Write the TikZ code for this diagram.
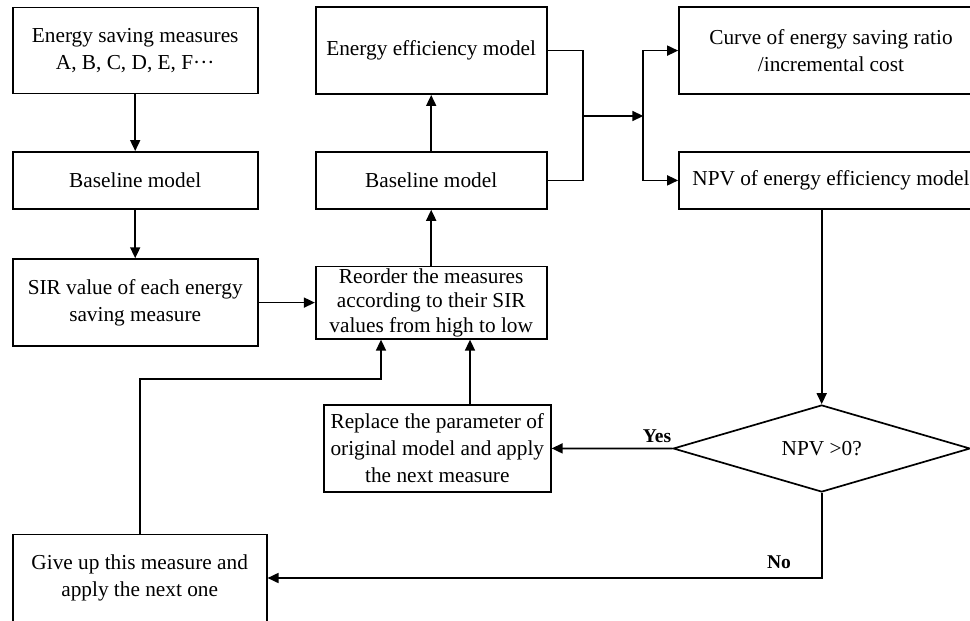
\documentclass[tikz,border=0pt]{standalone}
\usepackage{fontspec}
\setmainfont{Liberation Serif}
\usetikzlibrary{arrows.meta,shapes.geometric}

\begin{document}
\begin{tikzpicture}[x=1pt,y=-1pt,
  box/.style={draw, line width=1.7pt, inner sep=2pt, align=center,
              font=\fontsize{21.3}{27}\selectfont},
  link/.style={line width=1.7pt},
  arr/.style={link, -{Triangle[length=11pt,width=10pt]}},
  tag/.style={font=\bfseries\fontsize{19.5}{20}\selectfont, inner sep=0pt}]

\useasboundingbox (0,0) rectangle (970,621);
\clip (0,0) rectangle (970,621);

% left column
\node[box, minimum width=245pt, minimum height=86pt] (meas) at (135.2,50.4)
  {Energy saving measures\\A, B, C, D, E, F···};
\node[box, minimum width=245pt, minimum height=57pt] (base1) at (135.2,180.4)
  {Baseline model};
\node[box, minimum width=245pt, minimum height=87pt] (sir) at (135.2,302.6)
  {SIR value of each energy\\saving measure};

% middle column
\node[box, minimum width=231pt, minimum height=87pt] (eff) at (431.2,50.6)
  {Energy efficiency model};
\node[box, minimum width=231pt, minimum height=57pt] (base2) at (431.2,180.4)
  {Baseline model};
\node[box, minimum width=231pt, minimum height=72pt,
      font=\fontsize{21.3}{24.5}\selectfont] (reord) at (431.2,302.6)
  {Reorder the measures\\according to their SIR\\values from high to low};
\node[box, minimum width=227pt, minimum height=87pt] (repl) at (437.3,448.4)
  {Replace the parameter of\\original model and apply\\the next measure};

% right column
\node[box, minimum width=304pt, minimum height=87pt] (curve) at (831,50.6)
  {Curve of energy saving ratio\\/incremental cost};
\node[box, minimum width=304pt, minimum height=57pt] (npv) at (831,180.4)
  {NPV of energy efficiency model};
\node[draw, diamond, aspect=3.4, minimum width=297pt, minimum height=87pt,
      inner sep=0pt, line width=1.7pt, font=\fontsize{21.3}{27}\selectfont]
  (dia) at (821.7,448.5) {NPV >0?};

% bottom left
\node[box, minimum width=254pt, minimum height=87pt] (gu) at (139.7,578)
  {Give up this measure and\\apply the next one};

% helper points
\coordinate (jl) at (583.3,116);
\coordinate (jr) at (643.3,116);
\coordinate (cy) at (470,0);
\coordinate (cg) at (381,379);

% connectors
\draw[arr] (meas) -- (base1);
\draw[arr] (base1) -- (sir);
\draw[arr] (sir) -- (reord);
\draw[arr] (reord) -- (base2);
\draw[arr] (base2) -- (eff);
\draw[link] (eff.east) -| (jl);
\draw[link] (base2.east) -| (jl);
\draw[arr] (jl) -- (jr);
\draw[arr] (jr) |- (curve.west);
\draw[arr] (jr) |- (npv.west);
\draw[arr] (dia.north |- npv.south) -- (dia.north);
\draw[arr] (dia.west) -- (repl.east);
\draw[arr] (repl.north -| cy) -- (reord.south -| cy);
\draw[arr] (dia.south) |- (gu.east);
\draw[arr] (gu.north) |- (cg) -- (reord.south -| cg);

% branch labels
\node[tag] (yes) at (657,436) {Yes};
\node[tag] (no) at (779,562.5) {No};
\end{tikzpicture}
\end{document}
